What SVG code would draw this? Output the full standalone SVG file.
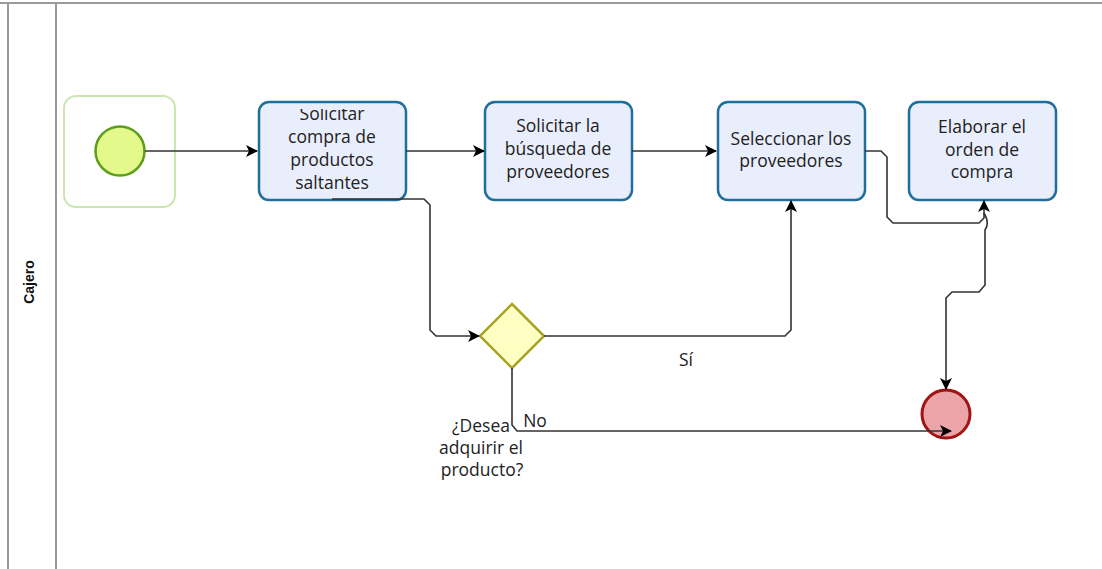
<svg xmlns="http://www.w3.org/2000/svg" width="1102" height="569" viewBox="0 0 1102 569">
  <style>
    .lane { stroke: #9a9a9a; stroke-width: 2; fill: none; }
    .task rect { fill: #e9eefc; stroke: #1f6f9c; stroke-width: 2.5; }
    .label { font-family: "Open Sans", "Noto Sans", sans-serif; font-size: 17.5px; fill: #222; text-anchor: middle; }
    .flow { fill: none; stroke: #333; stroke-width: 1.6; }
  </style>
  <defs>
    <marker id="arrow" viewBox="0 0 12 12" refX="11" refY="6" markerWidth="12" markerHeight="12" markerUnits="userSpaceOnUse" orient="auto">
      <path d="M0,0 L12,6 L0,12 L3,6 Z" fill="#000"/>
    </marker>
    <!-- first task's text overflows its box and is cut at the top -->
    <clipPath id="task1-clip">
      <rect x="259" y="109" width="147" height="91"/>
    </clipPath>
  </defs>
  <rect width="1102" height="569" fill="#fff"/>

  <!-- pool / lane frame -->
  <g id="lane">
    <line class="lane" x1="0" y1="3" x2="1102" y2="3"/>
    <line class="lane" x1="8" y1="3" x2="8" y2="569"/>
    <line class="lane" x1="56" y1="3" x2="56" y2="569"/>
    <text transform="translate(34,282) rotate(-90)" font-family="Liberation Sans, Arial, sans-serif" font-size="14" font-weight="bold" text-anchor="middle" fill="#111">Cajero</text>
  </g>

  <!-- start event -->
  <g id="start">
    <rect x="64" y="96" width="111" height="111" rx="12" fill="none" stroke="#cce6b0" stroke-width="2"/>
    <circle cx="120" cy="151" r="24.5" fill="#e4f98c" stroke="#5a9e1a" stroke-width="2.5"/>
  </g>

  <g id="task1" class="task">
    <rect x="259" y="102" width="147" height="98" rx="10"/>
    <g clip-path="url(#task1-clip)">
      <text class="label" x="332" y="120">Solicitar</text>
      <text class="label" x="332" y="143">compra de</text>
      <text class="label" x="332" y="166">productos</text>
      <text class="label" x="332" y="189">saltantes</text>
    </g>
  </g>

  <g id="task2" class="task">
    <rect x="485" y="102" width="147" height="98" rx="10"/>
    <text class="label" x="558" y="132">Solicitar la</text>
    <text class="label" x="558" y="155">búsqueda de</text>
    <text class="label" x="558" y="178">proveedores</text>
  </g>

  <g id="task3" class="task">
    <rect x="718" y="102" width="147" height="98" rx="10"/>
    <text class="label" x="791" y="145">Seleccionar los</text>
    <text class="label" x="791" y="167">proveedores</text>
  </g>

  <g id="task4" class="task">
    <rect x="909" y="102" width="147" height="98" rx="10"/>
    <text class="label" x="982" y="133">Elaborar el</text>
    <text class="label" x="982" y="156">orden de</text>
    <text class="label" x="982" y="178">compra</text>
  </g>

  <g id="gateway">
    <polygon points="512,304 544,336 512,368 480,336" fill="#ffffc4" stroke="#a6a624" stroke-width="2.5"/>
    <text class="label" x="481" y="432">¿Desea</text>
    <text class="label" x="481" y="454">adquirir el</text>
    <text class="label" x="482" y="476">producto?</text>
  </g>

  <g id="end">
    <circle cx="946" cy="414" r="24" fill="#eba4a8" stroke="#a01414" stroke-width="3"/>
  </g>

  <!-- connectors -->
  <g id="connectors">
    <path class="flow" d="M145,151 H257" marker-end="url(#arrow)"/>
    <path class="flow" d="M406,151 H484" marker-end="url(#arrow)"/>
    <path class="flow" d="M632,151 H716" marker-end="url(#arrow)"/>
    <path class="flow" d="M332,199 H424 L430,205 V330 L436,336 H479" marker-end="url(#arrow)"/>
    <path class="flow" d="M544,336 H785 L791,330 V201" marker-end="url(#arrow)"/>
    <path class="flow" d="M865,151 H881 L887,157 V217 L893,223 H979 L984,218 V201" marker-end="url(#arrow)"/>
    <path class="flow" d="M984,213 Q990,223 985,230 V285 L979,292 H952 L946,298 V389" marker-end="url(#arrow)"/>
    <path class="flow" d="M512,368 V425 L517,431 H951" marker-end="url(#arrow)"/>
    <text class="label" x="686" y="366">Sí</text>
    <text class="label" x="535" y="427">No</text>
  </g>
</svg>
